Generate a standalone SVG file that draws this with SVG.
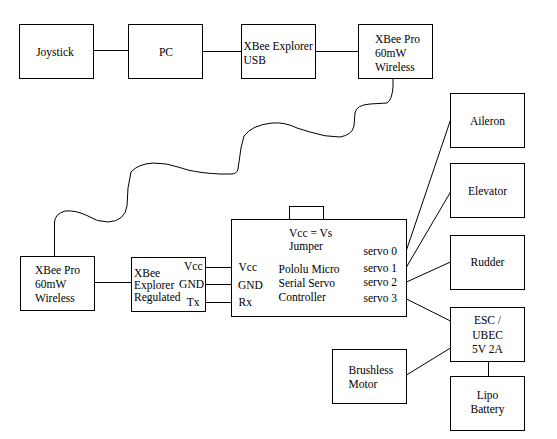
<svg xmlns="http://www.w3.org/2000/svg" width="557" height="439" viewBox="0 0 557 439" font-family="'Liberation Serif', 'DejaVu Serif', serif">
<style>
  .box { fill: #ffffff; stroke: #000000; stroke-width: 1; }
  .wire { fill: none; stroke: #000000; stroke-width: 1; }
  text { font-family: 'Liberation Serif', 'DejaVu Serif', serif; font-size: 11.5px; fill: #000000; }
  .c { text-anchor: middle; }
  .r { text-anchor: end; }
</style>
<rect x="0" y="0" width="557" height="439" fill="#ffffff"/>
<g id="connectors">
  <line class="wire" x1="93.5" y1="50.5" x2="128.5" y2="50.5"/>
  <line class="wire" x1="202.5" y1="51.5" x2="241.5" y2="51.5"/>
  <line class="wire" x1="315.5" y1="51.5" x2="358.5" y2="51.5"/>
  <path class="wire" d="M393,78 L393,87 Q392,100 387,103 L370,104 Q356,105 355,113 L354,126 Q352,135 340,137 Q325,137 310,132 L297,128 Q285,122 272,123 Q252,125 244,136 L241,148 L238,169 Q237,174 231,174 L220,174 Q200,173 188,170 L178,167 Q167,163 153,163 Q138,164 131,172 L128,188 L127,206 Q125,221 108,222 Q97,222 88,216 Q76,210 65,211 Q55,214 54.5,222 L54.5,256.5"/>
  <line class="wire" x1="94.5" y1="282.5" x2="131.5" y2="282.5"/>
  <line class="wire" x1="205.5" y1="267.5" x2="231.5" y2="267.5"/>
  <line class="wire" x1="205.5" y1="284.5" x2="231.5" y2="284.5"/>
  <line class="wire" x1="205.5" y1="302.5" x2="231.5" y2="302.5"/>
  <line class="wire" x1="406.5" y1="250" x2="450.5" y2="120"/>
  <line class="wire" x1="406.5" y1="267" x2="450.5" y2="192"/>
  <line class="wire" x1="406.5" y1="282" x2="450.5" y2="262"/>
  <line class="wire" x1="406.5" y1="299" x2="450.5" y2="321"/>
  <line class="wire" x1="406.5" y1="375" x2="450.5" y2="348"/>
  <line class="wire" x1="488.5" y1="361.5" x2="488.5" y2="376.5"/>
</g>
<g id="joystick">
  <rect class="box" x="19.5" y="24.5" width="74" height="54"/>
  <text x="55" y="55.5" class="c">Joystick</text>
</g>
<g id="pc">
  <rect class="box" x="128.5" y="24.5" width="74" height="54"/>
  <text x="166" y="56" class="c">PC</text>
</g>
<g id="xbee-explorer-usb">
  <rect class="box" x="241.5" y="24.5" width="74" height="54"/>
  <text x="243.5" y="50">XBee Explorer</text>
  <text x="243.5" y="64">USB</text>
</g>
<g id="xbee-pro-top">
  <rect class="box" x="358.5" y="24.5" width="74" height="54"/>
  <text x="375" y="42.5">XBee Pro</text>
  <text x="375" y="56.5">60mW</text>
  <text x="375" y="70.5">Wireless</text>
</g>
<g id="xbee-pro-bottom">
  <rect class="box" x="20.5" y="256.5" width="74" height="54"/>
  <text x="35" y="274">XBee Pro</text>
  <text x="35" y="288">60mW</text>
  <text x="35" y="302">Wireless</text>
</g>
<g id="xbee-explorer-regulated">
  <rect class="box" x="131.5" y="257.5" width="74" height="54"/>
  <text x="134" y="276.5">XBee</text>
  <text x="134" y="288.5">Explorer</text>
  <text x="134" y="300.5">Regulated</text>
  <text x="202.5" y="270" class="r">Vcc</text>
  <text x="204" y="288" class="r">GND</text>
  <text x="199.5" y="305.5" class="r">Tx</text>
</g>
<g id="pololu">
  <rect class="box" x="289.5" y="206.5" width="34" height="13"/>
  <rect class="box" x="231.5" y="219.5" width="175" height="97"/>
  <text x="289" y="236.5">Vcc = Vs</text>
  <text x="289" y="250">Jumper</text>
  <text x="238.5" y="271">Vcc</text>
  <text x="238" y="289">GND</text>
  <text x="238.5" y="306">Rx</text>
  <text x="278.5" y="272.5">Pololu Micro</text>
  <text x="278.5" y="286.5">Serial Servo</text>
  <text x="278.5" y="300.5">Controller</text>
  <text x="363.5" y="254.5">servo 0</text>
  <text x="363.5" y="271.5">servo 1</text>
  <text x="363.5" y="285.5">servo 2</text>
  <text x="363.5" y="301.5">servo 3</text>
</g>
<g id="aileron">
  <rect class="box" x="450.5" y="93.5" width="74" height="54"/>
  <text x="487.5" y="124.5" class="c">Aileron</text>
</g>
<g id="elevator">
  <rect class="box" x="450.5" y="163.5" width="74" height="54"/>
  <text x="487.5" y="194.5" class="c">Elevator</text>
</g>
<g id="rudder">
  <rect class="box" x="450.5" y="235.5" width="74" height="54"/>
  <text x="487.5" y="266" class="c">Rudder</text>
</g>
<g id="esc">
  <rect class="box" x="450.5" y="307.5" width="74" height="54"/>
  <text x="487.5" y="324" class="c">ESC /</text>
  <text x="487.5" y="338.5" class="c">UBEC</text>
  <text x="487.5" y="352.5" class="c">5V 2A</text>
</g>
<g id="lipo">
  <rect class="box" x="450.5" y="376.5" width="74" height="54"/>
  <text x="487.5" y="398.5" class="c">Lipo</text>
  <text x="487.5" y="412.5" class="c">Battery</text>
</g>
<g id="brushless-motor">
  <rect class="box" x="332.5" y="349.5" width="74" height="54"/>
  <text x="348.5" y="373.5">Brushless</text>
  <text x="348.5" y="387.5">Motor</text>
</g>
</svg>
